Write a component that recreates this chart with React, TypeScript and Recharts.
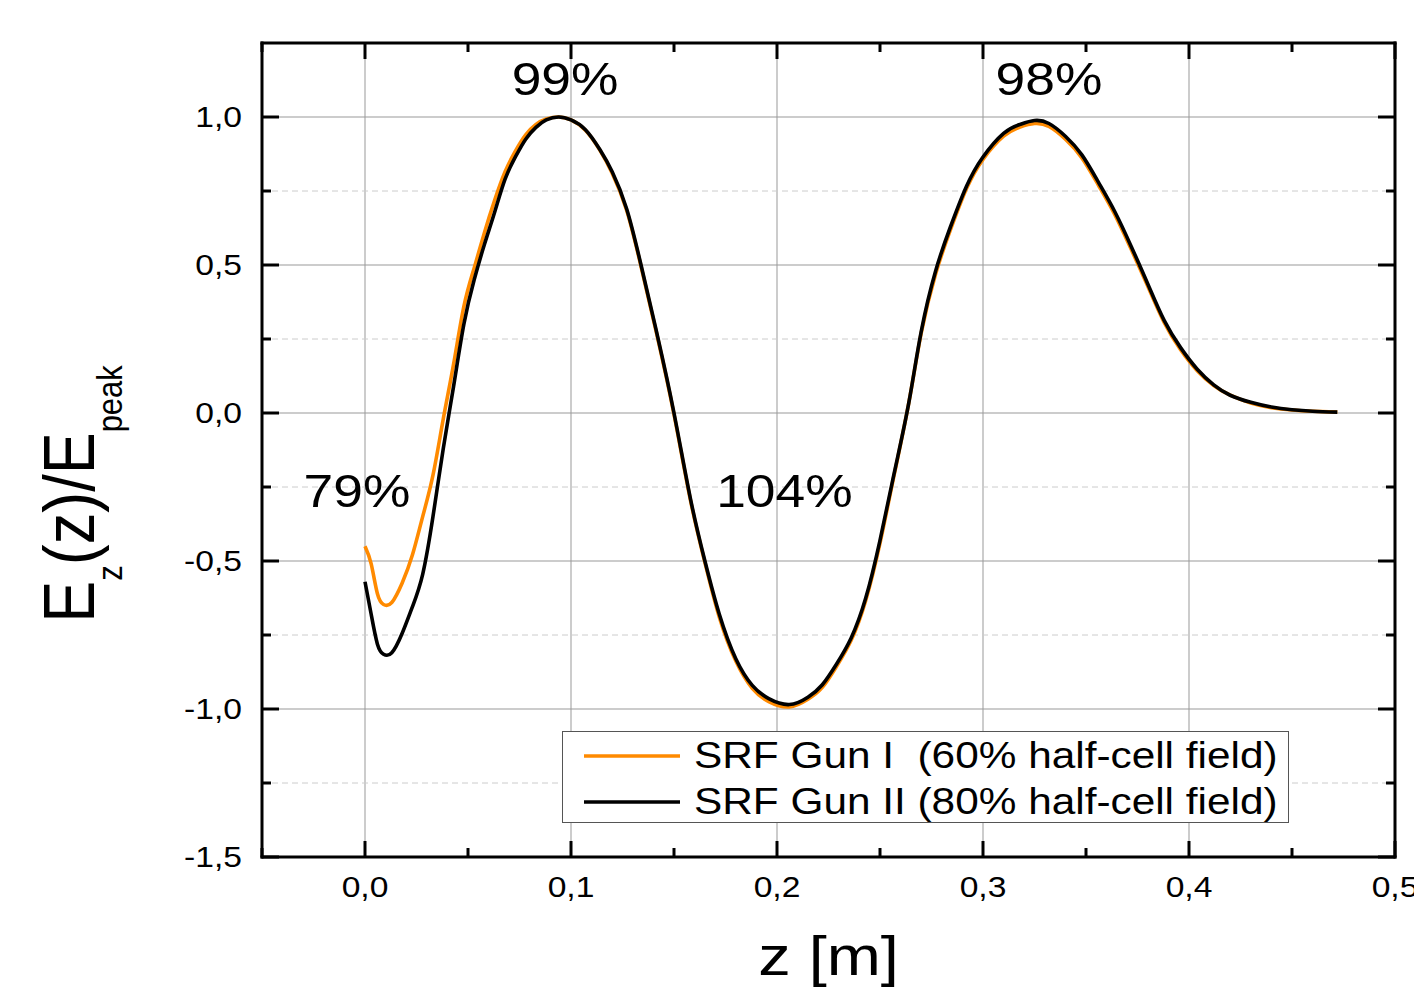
import React from 'react';
import {
  LineChart,
  Line,
  XAxis,
  YAxis,
  CartesianGrid,
  ReferenceDot,
  Legend
} from 'recharts';

const FONT = '"Liberation Sans", Arial, Helvetica, sans-serif';
// the original figure's lettering is stretched a bit horizontally
const SX = 1.16;

// z position along the axis [m]
const zPos = [
  0, 0.003, 0.006, 0.009, 0.013, 0.018, 0.023, 0.028, 0.033, 0.038,
  0.043, 0.048, 0.053, 0.058, 0.063, 0.068, 0.073, 0.078, 0.083, 0.088,
  0.094, 0.1, 0.107, 0.114, 0.12, 0.127, 0.134, 0.142, 0.15, 0.158,
  0.165, 0.172, 0.18, 0.188, 0.196, 0.206, 0.215, 0.222, 0.229, 0.236,
  0.243, 0.25, 0.257, 0.264, 0.27, 0.277, 0.284, 0.292, 0.3, 0.31,
  0.318, 0.325, 0.332, 0.34, 0.348, 0.356, 0.364, 0.372, 0.38, 0.388,
  0.396, 0.404, 0.412, 0.42, 0.43, 0.44, 0.45, 0.46, 0.472
];

// SRF Gun I (60% half-cell field), orange
const gunI = [
  -0.45, -0.51, -0.61, -0.647, -0.64, -0.575, -0.48, -0.35, -0.21, -0.02,
  0.165, 0.36, 0.49, 0.61, 0.72, 0.815, 0.885, 0.94, 0.975, 0.993,
  1.0, 0.99, 0.955, 0.888, 0.81, 0.685, 0.495, 0.255, -0.005, -0.295,
  -0.505, -0.69, -0.838, -0.93, -0.975, -0.993, -0.967, -0.927, -0.855, -0.768,
  -0.635, -0.44, -0.205, 0.035, 0.27, 0.47, 0.615, 0.758, 0.857, 0.935,
  0.966, 0.978, 0.968, 0.925, 0.862, 0.77, 0.67, 0.552, 0.428, 0.305,
  0.213, 0.143, 0.093, 0.06, 0.034, 0.018, 0.01, 0.006, 0.003
];

// SRF Gun II (80% half-cell field), black
const gunII = [
  -0.57, -0.68, -0.78, -0.815, -0.81, -0.745, -0.655, -0.545, -0.35, -0.12,
  0.09, 0.3, 0.45, 0.57, 0.68, 0.79, 0.865, 0.925, 0.965, 0.99,
  1.0, 0.99, 0.957, 0.89, 0.815, 0.69, 0.5, 0.26, 0.0, -0.29,
  -0.5, -0.68, -0.83, -0.92, -0.965, -0.985, -0.96, -0.918, -0.847, -0.76,
  -0.627, -0.43, -0.2, 0.035, 0.275, 0.48, 0.625, 0.766, 0.865, 0.945,
  0.975, 0.988, 0.978, 0.935, 0.872, 0.78, 0.68, 0.562, 0.436, 0.312,
  0.22, 0.148, 0.095, 0.06, 0.036, 0.02, 0.011, 0.006, 0.003
];

const seriesNames = [
  'SRF Gun I  (60% half-cell field)',
  'SRF Gun II (80% half-cell field)'
];

const xTicks = [-0.05, 0, 0.05, 0.1, 0.15, 0.2, 0.25, 0.3, 0.35, 0.4, 0.45, 0.5];
const yTicks = [-1.5, -1.25, -1, -0.75, -0.5, -0.25, 0, 0.25, 0.5, 0.75, 1];
const xGrid = [0, 0.1, 0.2, 0.3, 0.4];
const yGridMajor = [-1, -0.5, 0, 0.5, 1];
const yGridMinor = [-1.25, -0.75, -0.25, 0.25, 0.75];

const annotations = [
  { z: 0.0971, e: 1.129, text: '99%' },
  { z: 0.332, e: 1.129, text: '98%' },
  { z: -0.0039, e: -0.261, text: '79%' },
  { z: 0.2036, e: -0.261, text: '104%' }
];

const rows = zPos.map((z, i) => ({ z, gunI: gunI[i], gunII: gunII[i] }));

// plot box in chart coordinates
const PLOT = { left: 254, top: 35, right: 1387, bottom: 849 };

const fmt = (v: number) => v.toFixed(1).replace('.', ',');
const isMajorX = (v: number) => Math.abs(v * 10 - Math.round(v * 10)) < 1e-6;
const isMajorY = (v: number) => Math.abs(v * 2 - Math.round(v * 2)) < 1e-6;

const SText = ({ x, y, anchor, size, children }: any) => (
  <text
    transform={`translate(${x},${y}) scale(${SX},1)`}
    textAnchor={anchor}
    fontSize={size}
    fontFamily={FONT}
    fill="#000"
  >
    {children}
  </text>
);

const BottomTick = ({ x, y, payload }: any) => {
  const major = isMajorX(payload.value);
  return (
    <g>
      <line x1={x} y1={y} x2={x} y2={y - (major ? 16 : 9)} stroke="#000" strokeWidth={3} />
      {major && (
        <SText x={x} y={y + 40} anchor="middle" size={29}>
          {fmt(payload.value)}
        </SText>
      )}
    </g>
  );
};

const TopTick = ({ x, y, payload }: any) => {
  const major = isMajorX(payload.value);
  return <line x1={x} y1={y} x2={x} y2={y + (major ? 16 : 9)} stroke="#000" strokeWidth={3} />;
};

const LeftTick = ({ x, y, payload }: any) => {
  const major = isMajorY(payload.value);
  return (
    <g>
      <line x1={x} y1={y} x2={x + (major ? 17 : 9)} y2={y} stroke="#000" strokeWidth={3} />
      {major && (
        <SText x={x - 20} y={y + 10} anchor="end" size={29}>
          {fmt(payload.value)}
        </SText>
      )}
    </g>
  );
};

const RightTick = ({ x, y, payload }: any) => {
  const major = isMajorY(payload.value);
  return <line x1={x} y1={y} x2={x - (major ? 17 : 9)} y2={y} stroke="#000" strokeWidth={3} />;
};

const XTitle = () => (
  <SText x={(PLOT.left + PLOT.right) / 2} y={967} anchor="middle" size={56}>
    z [m]
  </SText>
);

const YTitle = () => (
  <text
    transform={`translate(86,486) scale(${SX},1) rotate(-90)`}
    textAnchor="middle"
    fontSize={63}
    fontFamily={FONT}
    fill="#000"
  >
    E
    <tspan fontSize={31} dy={24}>z</tspan>
    <tspan dy={-24}>(z)/E</tspan>
    <tspan fontSize={31} dy={24}>peak</tspan>
  </text>
);

const LegendBox = ({ payload }: any) => (
  <div
    style={{
      width: 727,
      height: 92,
      boxSizing: 'border-box',
      border: '1px solid #555',
      background: '#fff',
      paddingTop: 1
    }}
  >
    {(payload || []).map((entry: any, i: number) => (
      <div key={i} style={{ display: 'flex', alignItems: 'center', height: 46 }}>
        <svg width={118} height={46} style={{ flex: 'none' }}>
          <line x1={21} y1={23} x2={117} y2={23} stroke={entry.color} strokeWidth={3.5} />
        </svg>
        <span
          style={{
            display: 'inline-block',
            marginLeft: 13,
            fontFamily: FONT,
            fontSize: 36.5,
            lineHeight: '46px',
            whiteSpace: 'pre',
            color: '#000',
            transform: `scaleX(${SX})`,
            transformOrigin: 'left center'
          }}
        >
          {entry.value}
        </span>
      </div>
    ))}
  </div>
);

const axisFrame = { stroke: '#000', strokeWidth: 3, strokeLinecap: 'square' as const };

export default function App() {
  return (
    <LineChart
      width={1414}
      height={979}
      data={rows}
      margin={{ top: 34, right: 26, bottom: 30, left: 54 }}
    >
      <CartesianGrid stroke="#999" horizontalValues={yGridMajor} verticalValues={xGrid} />
      <CartesianGrid
        stroke="#ccc"
        strokeDasharray="6 4"
        vertical={false}
        horizontalValues={yGridMinor}
      />
      <XAxis
        dataKey="z"
        type="number"
        domain={[-0.05, 0.5]}
        allowDataOverflow
        ticks={xTicks}
        interval={0}
        tickSize={0}
        tickMargin={0}
        height={100}
        axisLine={axisFrame}
        tickLine={false}
        tick={BottomTick}
        label={XTitle}
      />
      <XAxis
        xAxisId="top"
        dataKey="z"
        orientation="top"
        type="number"
        domain={[-0.05, 0.5]}
        allowDataOverflow
        ticks={xTicks}
        interval={0}
        tickSize={0}
        tickMargin={0}
        height={1}
        axisLine={axisFrame}
        tickLine={false}
        tick={TopTick}
      />
      <YAxis
        type="number"
        domain={[-1.5, 1.25]}
        allowDataOverflow
        ticks={yTicks}
        interval={0}
        tickSize={0}
        tickMargin={0}
        width={200}
        axisLine={axisFrame}
        tickLine={false}
        tick={LeftTick}
        label={YTitle}
      />
      <YAxis
        yAxisId="right"
        orientation="right"
        type="number"
        domain={[-1.5, 1.25]}
        allowDataOverflow
        ticks={yTicks}
        interval={0}
        tickSize={0}
        tickMargin={0}
        width={1}
        axisLine={axisFrame}
        tickLine={false}
        tick={RightTick}
      />
      <Line
        type="natural"
        dataKey="gunI"
        name={seriesNames[0]}
        stroke="#ff8a00"
        strokeWidth={3.6}
        dot={false}
        isAnimationActive={false}
      />
      <Line
        type="natural"
        dataKey="gunII"
        name={seriesNames[1]}
        stroke="#000"
        strokeWidth={3.6}
        dot={false}
        isAnimationActive={false}
      />
      {annotations.map((a) => (
        <ReferenceDot
          key={a.text}
          x={a.z}
          y={a.e}
          r={0}
          shape={(p: any) => (
            <SText x={p.cx} y={p.cy + 16.5} anchor="middle" size={46}>
              {a.text}
            </SText>
          )}
        />
      ))}
      <Legend
        layout="vertical"
        align="center"
        verticalAlign="middle"
        wrapperStyle={{ left: 554, top: 723, width: 727, height: 92 }}
        content={LegendBox}
      />
    </LineChart>
  );
}
